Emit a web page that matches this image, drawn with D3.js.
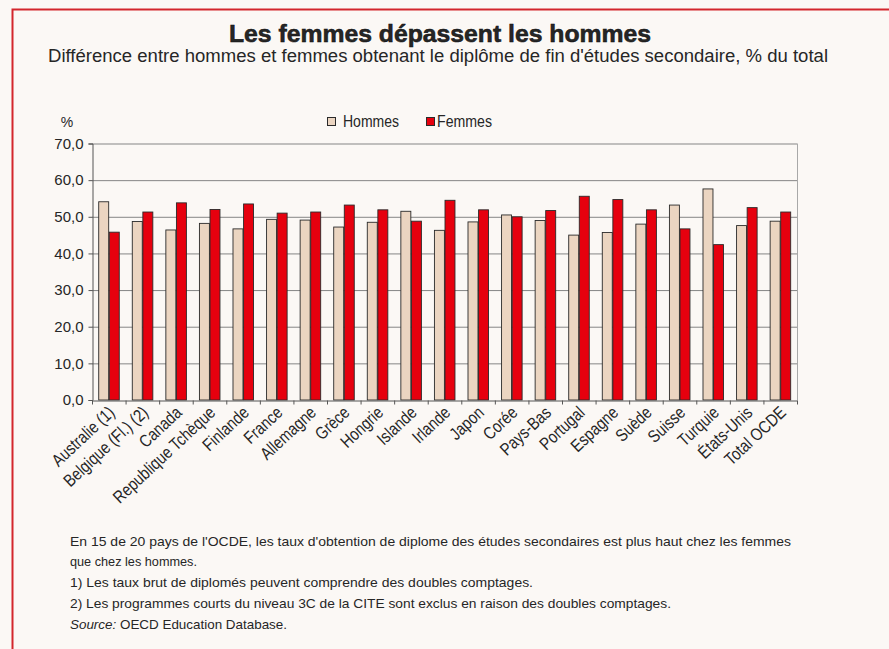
<!DOCTYPE html>
<html lang="fr">
<head>
<meta charset="utf-8">
<script src="https://cdn.jsdelivr.net/npm/d3@7/dist/d3.min.js"></script>
<style>
  html, body { margin: 0; padding: 0; background: #fbf8f5; }
  svg { display: block; }
  text { font-family: "Liberation Sans Narrow", "Arial Narrow", "Liberation Sans", Arial, sans-serif; fill: #262626; }
</style>
</head>
<body>
<svg id="chart" width="889" height="649"></svg>
<script>
// Graduation share by sex, % of total
const pays = ["Australie (1)", "Belgique (Fl.) (2)", "Canada", "Republique Tchèque", "Finlande",
  "France", "Allemagne", "Grèce", "Hongrie", "Islande", "Irlande", "Japon", "Corée", "Pays-Bas",
  "Portugal", "Espagne", "Suède", "Suisse", "Turquie", "États-Unis", "Total OCDE"];
const hommes = [54.1, 48.7, 46.4, 48.2, 46.7, 49.3, 49.1, 47.2, 48.5, 51.5, 46.3,
  48.6, 50.5, 49.0, 45.0, 45.7, 48.0, 53.2, 57.6, 47.6, 48.8];
const femmes = [45.8, 51.3, 53.8, 52.0, 53.5, 51.0, 51.3, 53.2, 51.9, 48.8, 54.5,
  51.9, 50.0, 51.7, 55.6, 54.7, 51.9, 46.7, 42.4, 52.5, 51.3];
const series = ["Hommes", "Femmes"];
const yTicks = [0, 10, 20, 30, 40, 50, 60, 70];

const titre = "Les femmes dépassent les hommes";
const sousTitre = "Différence entre hommes et femmes obtenant le diplôme de fin d'études secondaire, % du total";
const notes = [
  "En  15 de 20 pays de l'OCDE, les taux d'obtention de diplome des études secondaires est plus haut chez les femmes",
  "que chez les hommes.",
  "1) Les taux brut de diplomés peuvent comprendre des doubles comptages.",
  "2) Les programmes courts du niveau 3C de la CITE sont exclus en raison des doubles comptages."
];

const colors = { Hommes: "#ebd5c1", Femmes: "#e6000e" };

const svg = d3.select("#chart");

// page frame
svg.append("rect")
  .attr("x", 12.5).attr("y", 9.5).attr("width", 1000).attr("height", 1000)
  .attr("fill", "none").attr("stroke", "#d3262d").attr("stroke-width", 2);

// headings
svg.append("text").attr("x", 440).attr("y", 42).attr("text-anchor", "middle")
  .attr("font-size", 23).attr("font-weight", "bold")
  .attr("fill", "#0d0d0d").attr("stroke", "#0d0d0d").attr("stroke-width", 0.5)
  .attr("textLength", 422).attr("lengthAdjust", "spacingAndGlyphs")
  .text(titre);
svg.append("text").attr("x", 438).attr("y", 62).attr("text-anchor", "middle")
  .attr("font-size", 17.5)
  .attr("textLength", 780).attr("lengthAdjust", "spacingAndGlyphs")
  .text(sousTitre);

// plot area
const m = { left: 92, right: 797, top: 143.5, bottom: 400 };
const y = d3.scaleLinear().domain([0, 70]).range([m.bottom, m.top]);
const x0 = d3.scaleBand().domain(pays).range([m.left, m.right]).paddingInner(0.37).paddingOuter(0.185);
const x1 = d3.scaleBand().domain(series).range([0, x0.bandwidth()]);
const xEdge = d3.scaleLinear().domain([0, pays.length]).range([m.left, m.right]);

const fr = d3.formatLocale({ decimal: ",", thousands: " ", grouping: [3], currency: ["", " €"] });
const fmt = fr.format(".1f");

// gridlines
svg.append("g").selectAll("line").data(yTicks.filter(d => d > 0)).join("line")
  .attr("x1", m.left).attr("x2", m.right)
  .attr("y1", d => y(d) + 0.5).attr("y2", d => y(d) + 0.5)
  .attr("stroke", "#858585").attr("stroke-width", 1);
svg.append("line")
  .attr("x1", m.right + 0.5).attr("x2", m.right + 0.5)
  .attr("y1", m.top).attr("y2", m.bottom)
  .attr("stroke", "#a8a8a8");

// bars
const groups = svg.append("g").selectAll("g").data(pays).join("g")
  .attr("transform", d => `translate(${x0(d)},0)`);
groups.selectAll("rect")
  .data((d, i) => series.map(s => ({ s, v: s === "Hommes" ? hommes[i] : femmes[i] })))
  .join("rect")
  .attr("x", d => x1(d.s) + 0.5)
  .attr("width", x1.bandwidth() - 0.6)
  .attr("y", d => y(d.v))
  .attr("height", d => y(0) - y(d.v))
  .attr("fill", d => colors[d.s])
  .attr("stroke", "#2a2a2a").attr("stroke-width", 0.9);

// axes
const yAxis = svg.append("g").attr("transform", `translate(${m.left + 0.5},0)`)
  .call(d3.axisLeft(y).tickValues(yTicks).tickFormat(fmt).tickSize(4).tickPadding(5));
yAxis.select(".domain").attr("stroke", "#555");
yAxis.selectAll(".tick line").attr("stroke", "#555");
yAxis.selectAll(".tick text").attr("font-size", 15).attr("fill", "#262626")
  .attr("font-family", "'Liberation Sans Narrow', 'Arial Narrow', 'Liberation Sans', Arial, sans-serif");

const xAxis = svg.append("g").attr("transform", `translate(0,${m.bottom + 0.5})`)
  .call(d3.axisBottom(xEdge).tickValues(d3.range(pays.length + 1)).tickFormat("").tickSize(4).tickSizeOuter(0));
xAxis.select(".domain").attr("stroke", "#555");
xAxis.selectAll(".tick line").attr("stroke", "#555");

// category labels, slanted and slightly condensed
svg.append("g").selectAll("text").data(pays).join("text")
  .attr("transform", d => `translate(${x0(d) + x0.bandwidth() / 2 + 7},${m.bottom + 14}) rotate(-43) scale(0.83,1)`)
  .attr("text-anchor", "end")
  .attr("font-size", 17.5)
  .text(d => d);

// "%" unit
svg.append("text").attr("x", 67).attr("y", 127).attr("text-anchor", "middle")
  .attr("font-size", 14).text("%");

// legend
const legend = [
  { s: "Hommes", sx: 327, tx: 343, w: 56 },
  { s: "Femmes", sx: 426, tx: 437, w: 55 }
];
const lg = svg.append("g").selectAll("g").data(legend).join("g");
lg.append("rect").attr("x", d => d.sx + 0.5).attr("y", 117.5).attr("width", 8).attr("height", 8)
  .attr("fill", d => colors[d.s]).attr("stroke", "#2a2a2a").attr("stroke-width", 1);
lg.append("text").attr("x", d => d.tx).attr("y", 127)
  .attr("font-size", 16).attr("textLength", d => d.w).attr("lengthAdjust", "spacingAndGlyphs")
  .text(d => d.s);

// notes
const noteY = [546, 566, 587, 608];
const noteW = [721, 127, 463, 601];
svg.append("g").selectAll("text").data(notes).join("text")
  .attr("x", 70).attr("y", (d, i) => noteY[i])
  .attr("font-size", 13.5)
  .attr("textLength", (d, i) => noteW[i]).attr("lengthAdjust", "spacingAndGlyphs")
  .text(d => d);
const src = svg.append("text").attr("x", 70).attr("y", 629).attr("font-size", 13.5)
  .attr("textLength", 217).attr("lengthAdjust", "spacingAndGlyphs");
src.append("tspan").attr("font-style", "italic").text("Source:");
src.append("tspan").text(" OECD Education Database.");
</script>
</body>
</html>
